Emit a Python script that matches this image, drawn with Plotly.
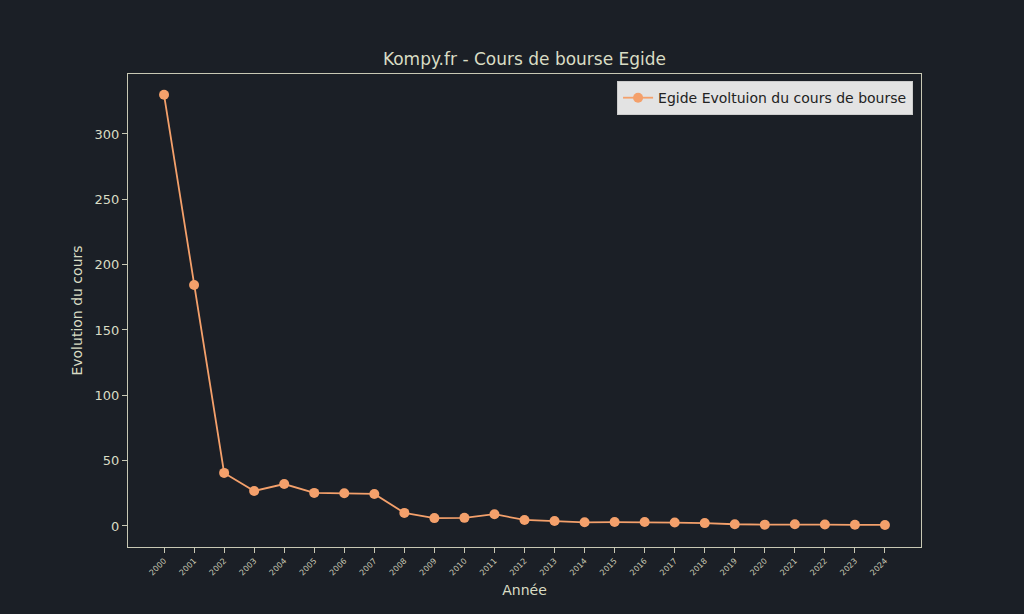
import plotly.graph_objs as go

years = [str(y) for y in range(2000, 2025)]
cours = [330, 184.4, 40.6, 26.8, 32.1, 25.3, 25.0, 24.5, 10.0, 6.0, 6.2, 9.0,
         4.6, 3.8, 2.8, 3.0, 3.0, 2.6, 2.2, 1.3, 1.0, 1.3, 1.1, 0.9, 0.8]
y_ticks = [0, 50, 100, 150, 200, 250, 300]

bg = '#1b1f26'
text_col = '#d9dcc4'
axis_col = '#c8c8b4'
orange = '#f4a06b'

fig = go.Figure()

fig.add_trace(go.Scatter(
    x=list(range(len(years))),
    y=cours,
    mode='lines+markers',
    name='Egide Evoltuion du cours de bourse',
    line=dict(color=orange, width=1.8),
    marker=dict(size=10, color=orange)
))

fig.update_layout(
    width=1024, height=614,
    paper_bgcolor=bg, plot_bgcolor=bg,
    font=dict(family='DejaVu Sans', color=text_col),
    margin=dict(l=128, r=103, t=74, b=67),
    title=dict(text='Kompy.fr - Cours de bourse Egide', xref='paper', x=0.5, xanchor='center',
               y=1 - 59 / 614, yanchor='middle', font=dict(size=17, color=text_col)),
    showlegend=True,
    legend=dict(x=0.99, y=0.985, xanchor='right', yanchor='top',
                bgcolor='#e3e3e3', bordercolor='#cccccc', borderwidth=1,
                font=dict(size=14, color='#222222')),
    xaxis=dict(
        range=[-1.2, 25.2],
        tickmode='array', tickvals=list(range(len(years))), ticktext=years,
        tickangle=-45, tickfont=dict(size=8, color=axis_col),
        showgrid=False, zeroline=False,
        showline=True, linecolor=axis_col, linewidth=1.2, mirror=True,
        ticks='outside', ticklen=5, tickcolor=axis_col,
        title=dict(text='Année', font=dict(size=14, color=text_col), standoff=8)
    ),
    yaxis=dict(
        range=[-16.1, 345.9],
        tickmode='array', tickvals=y_ticks,
        tickfont=dict(size=13, color=text_col),
        showgrid=False, zeroline=False,
        showline=True, linecolor=axis_col, linewidth=1.2, mirror=True,
        ticks='outside', ticklen=5, tickcolor=axis_col,
        title=dict(text='Evolution du cours', font=dict(size=14, color=text_col), standoff=8)
    )
)

fig.write_html("out.html", config={'displayModeBar': False},
               post_script="document.body.style.margin='0';document.body.style.background='#1b1f26';")
